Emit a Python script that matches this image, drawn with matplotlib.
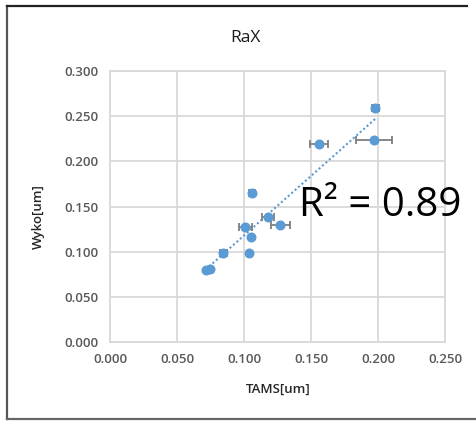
import matplotlib
matplotlib.use("Agg")
import matplotlib.pyplot as plt
import numpy as np
from matplotlib.lines import Line2D

plt.rcParams['font.family'] = ['Open Sans', 'DejaVu Sans']

tams = [0.198, 0.197, 0.156, 0.106, 0.1178, 0.101, 0.1272, 0.1054, 0.0846, 0.104, 0.0714, 0.0749]
wyko = [0.2585, 0.2235, 0.2187, 0.1645, 0.1386, 0.1276, 0.130, 0.1165, 0.0988, 0.0988, 0.0793, 0.0804]
tams_err = [0.0025, 0.0134, 0.0066, 0.0022, 0.0043, 0.005, 0.007, 0.0, 0.0025, 0.0, 0.0, 0.0]
x_ticks = [0.000, 0.050, 0.100, 0.150, 0.200, 0.250]
y_ticks = [0.000, 0.050, 0.100, 0.150, 0.200, 0.250, 0.300]
title = "RaX"
r2_label = "R² = 0.89"

W, H = 477, 421
fig = plt.figure(figsize=(W/100, H/100), dpi=100)
ax = fig.add_axes([110/W, 1-342/H, (445-110)/W, (342-71)/H])

grid_c = '#d9d9d9'
blue = '#5b9bd5'
txt_c = '#595959'

ax.set_xlim(0, 0.25)
ax.set_ylim(0, 0.30)
ax.set_xticks(x_ticks)
ax.set_yticks(y_ticks)
ax.set_xticklabels([f"{v:.3f}" for v in x_ticks])
ax.set_yticklabels([f"{v:.3f}" for v in y_ticks])
ax.grid(True, color=grid_c, linewidth=1.3)
ax.set_axisbelow(True)
for s in ax.spines.values():
    s.set_color(grid_c)
    s.set_linewidth(1.3)
ax.tick_params(length=0, colors=txt_c, labelsize=9.5, pad=8)
for lab in ax.get_xticklabels() + ax.get_yticklabels():
    lab.set_fontweight('semibold')

# trendline
coef = np.polyfit(tams, wyko, 1)
xs = np.array([min(tams), max(tams)])
ax.plot(xs, np.polyval(coef, xs), linestyle=(0, (1, 1.2)), color=blue, linewidth=1.5, zorder=2)

ax.errorbar(tams, wyko, xerr=tams_err, fmt='o', color=blue, markersize=6.2,
            ecolor='#7f7f7f', elinewidth=1.3, capsize=3, capthick=1.3, zorder=3)

ax.text(0.141, 0.151, r2_label, fontsize=29, color='black', ha='left', va='center',
        family=['Open Sans', 'DejaVu Sans'], clip_on=False, zorder=4)

fig.text(245/W, 1-38/H, title, ha='center', va='center', fontsize=12.5, color='#1a1a1a')
fig.text(278/W, 1-389/H, "TAMS[um]", ha='center', va='center', fontsize=9.5, color='#262626', fontweight='semibold')
fig.text(38/W, 1-217/H, "Wyko[um]", ha='center', va='center', rotation=90, fontsize=9.5, color='#262626', fontweight='semibold')

# chart border
fig.add_artist(Line2D([7/W, 7/W], [1-6/H, 1-419/H], color='#555555', linewidth=1.6, transform=fig.transFigure))
fig.add_artist(Line2D([7/W, 467/W], [1-6/H, 1-6/H], color='#222222', linewidth=1.6, transform=fig.transFigure))
fig.add_artist(Line2D([7/W, 1.0], [1-419/H, 1-419/H], color='#666666', linewidth=1.6, transform=fig.transFigure))

fig.savefig("out.png", dpi=100)
